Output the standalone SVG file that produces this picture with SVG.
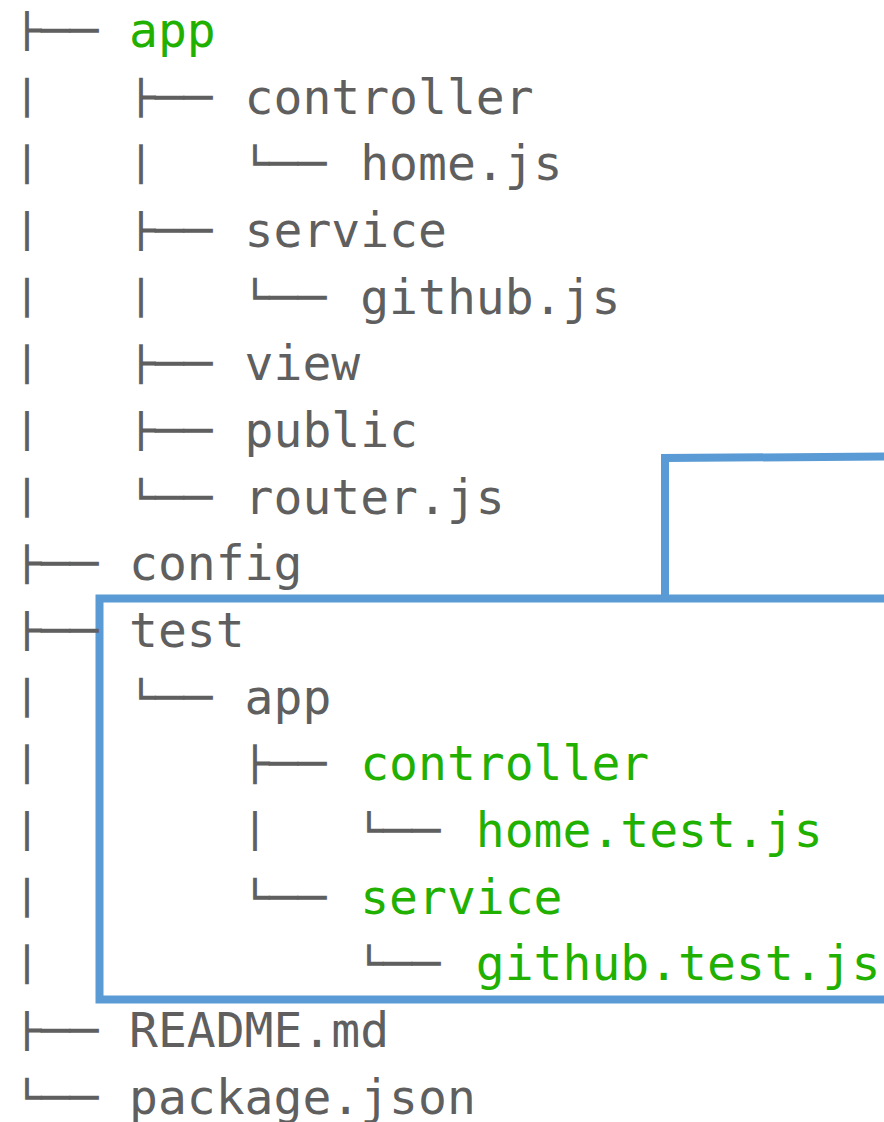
<svg xmlns="http://www.w3.org/2000/svg" width="884" height="1122" viewBox="0 0 884 1122">
  <style>
    text { font-family: "DejaVu Sans Mono", "Liberation Mono", monospace; font-size: 48px; white-space: pre; }
    .tree text { fill: #5f5f5f; letter-spacing: -0.4px; }
    .name { fill: #5f5f5f; }
    .hl { fill: #1fb000; }
    .frame { fill: none; stroke: #5b9bd5; stroke-width: 8; stroke-linejoin: miter; }
  </style>
  <defs>
    <!-- each row's branch glyphs are trimmed to a 40px band so rows stay visually separate -->
    <clipPath id="rowBands">
      <rect x="0" y="11" width="884" height="40"/>
      <rect x="0" y="77.7" width="884" height="40"/>
      <rect x="0" y="144.3" width="884" height="40"/>
      <rect x="0" y="211" width="884" height="40"/>
      <rect x="0" y="277.7" width="884" height="40"/>
      <rect x="0" y="344.3" width="884" height="40"/>
      <rect x="0" y="411" width="884" height="40"/>
      <rect x="0" y="477.7" width="884" height="40"/>
      <rect x="0" y="544.3" width="884" height="40"/>
      <rect x="0" y="611" width="884" height="40"/>
      <rect x="0" y="677.7" width="884" height="40"/>
      <rect x="0" y="744.3" width="884" height="40"/>
      <rect x="0" y="811" width="884" height="40"/>
      <rect x="0" y="877.7" width="884" height="40"/>
      <rect x="0" y="944.3" width="884" height="40"/>
      <rect x="0" y="1011" width="884" height="40"/>
      <rect x="0" y="1077.7" width="884" height="40"/>
    </clipPath>
  </defs>
  <rect width="884" height="1122" fill="#ffffff"/>

  <!-- highlight frame around the test folder, with the tab above it -->
  <g id="highlight">
    <rect class="frame" x="99.5" y="598.5" width="820" height="401"/>
    <polyline class="frame" points="665,598.5 665,458 900,456.5"/>
  </g>

  <!-- tree branch glyphs -->
  <g id="connectors" class="tree" clip-path="url(#rowBands)">
    <text x="12.75" y="47" xml:space="preserve">├──</text>
    <text x="12.75" y="113.7" xml:space="preserve">│   ├──</text>
    <text x="12.75" y="180.3" xml:space="preserve">│   │   └──</text>
    <text x="12.75" y="247" xml:space="preserve">│   ├──</text>
    <text x="12.75" y="313.7" xml:space="preserve">│   │   └──</text>
    <text x="12.75" y="380.3" xml:space="preserve">│   ├──</text>
    <text x="12.75" y="447" xml:space="preserve">│   ├──</text>
    <text x="12.75" y="513.7" xml:space="preserve">│   └──</text>
    <text x="12.75" y="580.3" xml:space="preserve">├──</text>
    <text x="12.75" y="647" xml:space="preserve">├──</text>
    <text x="12.75" y="713.7" xml:space="preserve">│   └──</text>
    <text x="12.75" y="780.3" xml:space="preserve">│       ├──</text>
    <text x="12.75" y="847" xml:space="preserve">│       │   └──</text>
    <text x="12.75" y="913.7" xml:space="preserve">│       └──</text>
    <text x="12.75" y="980.3" xml:space="preserve">│           └──</text>
    <text x="12.75" y="1047" xml:space="preserve">├──</text>
    <text x="12.75" y="1113.7" xml:space="preserve">└──</text>
  </g>

  <!-- entries; x = 13.4 + column * 28.9 -->
  <g id="app"><text class="hl" x="129" y="47">app</text></g>
  <g id="app-controller"><text class="name" x="244.6" y="113.7">controller</text></g>
  <g id="app-home-js"><text class="name" x="360.2" y="180.3">home.js</text></g>
  <g id="app-service"><text class="name" x="244.6" y="247">service</text></g>
  <g id="app-github-js"><text class="name" x="360.2" y="313.7">github.js</text></g>
  <g id="app-view"><text class="name" x="244.6" y="380.3">view</text></g>
  <g id="app-public"><text class="name" x="244.6" y="447">public</text></g>
  <g id="app-router-js"><text class="name" x="244.6" y="513.7">router.js</text></g>
  <g id="config"><text class="name" x="129" y="580.3">config</text></g>
  <g id="test"><text class="name" x="129" y="647">test</text></g>
  <g id="test-app"><text class="name" x="244.6" y="713.7">app</text></g>
  <g id="test-controller"><text class="hl" x="360.2" y="780.3">controller</text></g>
  <g id="test-home-test-js"><text class="hl" x="475.8" y="847">home.test.js</text></g>
  <g id="test-service"><text class="hl" x="360.2" y="913.7">service</text></g>
  <g id="test-github-test-js"><text class="hl" x="475.8" y="980.3">github.test.js</text></g>
  <g id="readme"><text class="name" x="129" y="1047">README.md</text></g>
  <g id="package-json"><text class="name" x="129" y="1113.7">package.json</text></g>
</svg>
